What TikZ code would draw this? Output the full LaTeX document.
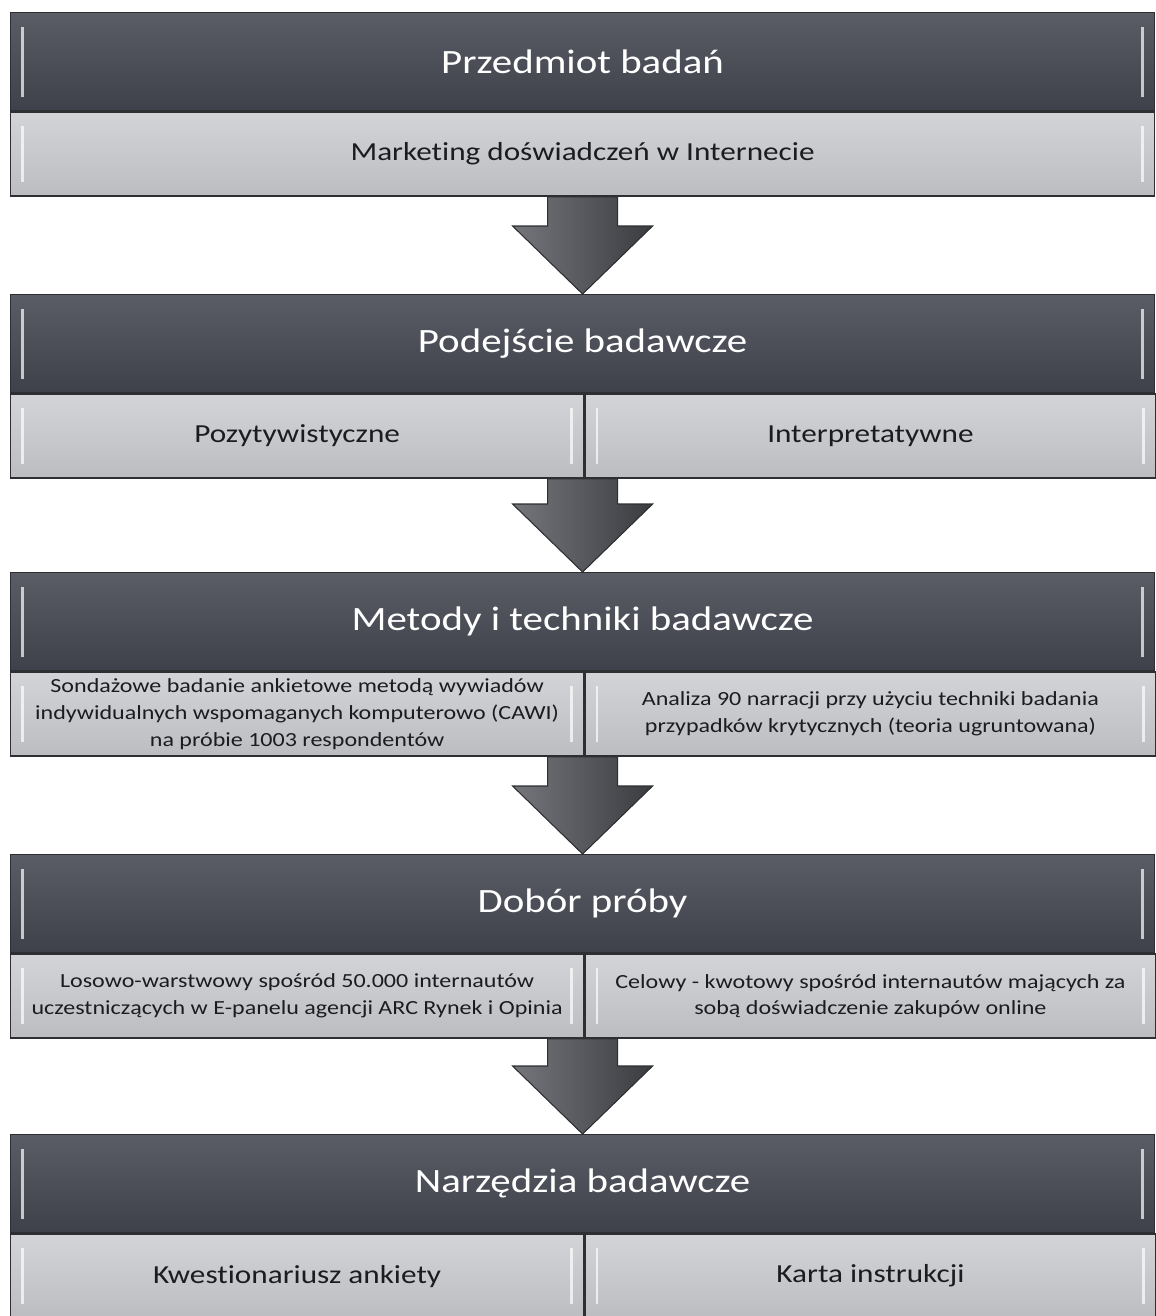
\documentclass[tikz,border=0pt]{standalone}
\usepackage{fontspec}
\setmainfont{Carlito}[FakeStretch=1.2, Ligatures={NoCommon}]
\usepackage{tikz}
\usetikzlibrary{calc}

\definecolor{headtop}{HTML}{5A5C66}
\definecolor{headbot}{HTML}{3F414A}
\definecolor{bartop}{HTML}{D3D4D7}
\definecolor{barbot}{HTML}{BCBDC1}
\definecolor{edgegray}{HTML}{2E2F33}
\definecolor{textgray}{HTML}{1C1C1E}
\definecolor{arrowlight}{HTML}{74767B}
\definecolor{arrowdark}{HTML}{3A3C40}

\tikzset{
  bevel/.style={path picture={
    \draw[white, draw opacity=0.7, line width=1.6pt]
      ($(path picture bounding box.north west)+(12,14)$) -- ($(path picture bounding box.south west)+(12,-14)$)
      ($(path picture bounding box.north east)+(-12,14)$) -- ($(path picture bounding box.south east)+(-12,-14)$);
  }},
  box node/.style={draw=edgegray, line width=0.8pt, inner sep=0pt, anchor=north west, align=center, bevel},
  head node/.style={box node, top color=headtop, bottom color=headbot, text=white,
    font=\fontsize{19.4}{23}\selectfont, minimum width=22.88cm, minimum height=1.96cm},
  bar node/.style={box node, top color=bartop, bottom color=barbot, text=textgray,
    font=\fontsize{14.8}{18}\selectfont, minimum width=22.88cm, minimum height=1.68cm},
  lbar node/.style={bar node, minimum width=11.46cm},
  rbar node/.style={bar node, minimum width=11.42cm},
  small text/.style={font=\fontsize{11.4}{15.2}\selectfont},
  arrow fill/.style={draw=edgegray, line width=0.6pt, left color=arrowlight, right color=arrowdark},
}

% block arrow from the bar above down to the next header
\newcommand{\strzalka}[2]{%
  \path (#2.north |- #1.south) coordinate (s) (#2.north) coordinate (t);
  \filldraw[arrow fill] ($(s)+(-35,0)$) -- ($(t)+(-35,-68)$) -- ($(t)+(-70,-68)$) -- (t)
    -- ($(t)+(70,-68)$) -- ($(t)+(35,-68)$) -- ($(s)+(35,0)$) -- cycle;
}

\begin{document}
\begin{tikzpicture}[x=0.02cm,y=-0.02cm]
\useasboundingbox (0,0) rectangle (1156,1316);

\node at (10,12) [head node] (przedmiot) {Przedmiot badań};
\node at (przedmiot.south west) [bar node] (marketing) {Marketing doświadczeń w Internecie};

\node at (10,294) [head node] (podejscie) {Podejście badawcze};
\node at (podejscie.south west) [lbar node] (pozyt) {Pozytywistyczne};
\node at (pozyt.north east) [rbar node] (interp) {Interpretatywne};

\node at (10,572) [head node] (metody) {Metody i techniki badawcze};
\node at (metody.south west) [lbar node, small text] (sondaz) {Sondażowe badanie ankietowe metodą wywiadów\\indywidualnych wspomaganych komputerowo (CAWI)\\na próbie 1003 respondentów};
\node at (sondaz.north east) [rbar node, small text] (analiza) {Analiza 90 narracji przy użyciu techniki badania\\przypadków krytycznych (teoria ugruntowana)};

\node at (10,854) [head node] (dobor) {Dobór próby};
\node at (dobor.south west) [lbar node, small text] (losowo) {Losowo-warstwowy spośród 50.000 internautów\\uczestniczących w E-panelu agencji ARC Rynek i Opinia};
\node at (losowo.north east) [rbar node, small text] (celowy) {Celowy - kwotowy spośród internautów mających za\\sobą doświadczenie zakupów online};

\node at (10,1134) [head node] (narzedzia) {Narzędzia badawcze};
\node at (narzedzia.south west) [lbar node] (kwest) {Kwestionariusz ankiety};
\node at (kwest.north east) [rbar node] (karta) {Karta instrukcji};

\strzalka{marketing}{podejscie}
\strzalka{pozyt}{metody}
\strzalka{sondaz}{dobor}
\strzalka{losowo}{narzedzia}

\end{tikzpicture}
\end{document}
